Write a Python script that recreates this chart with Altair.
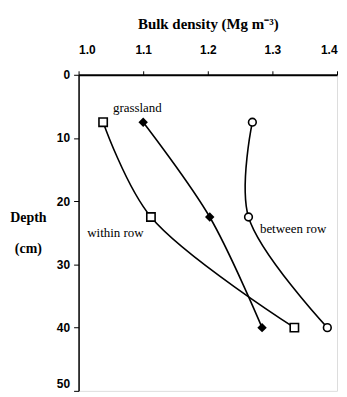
import altair as alt
import pandas as pd

depth = [7.5, 22.5, 40]
grassland = [1.100, 1.203, 1.284]
within_row = [1.038, 1.112, 1.334]
between_row = [1.269, 1.263, 1.385]

rows = []
for name, vals in [("grassland", grassland), ("within row", within_row), ("between row", between_row)]:
    for d, v in zip(depth, vals):
        rows.append({"series": name, "depth": d, "bd": v})
df = pd.DataFrame(rows)

lab_text = ["grassland", "within row", "between row"]
lab_x = [1.091, 1.057, 1.332]
lab_y = [5.2, 25.0, 24.4]
labels = pd.DataFrame({"t": lab_text, "bd": lab_x, "depth": lab_y})

xs = alt.Scale(domain=[1.0, 1.4], nice=False, zero=False)
ys = alt.Scale(domain=[0, 50], reverse=True, nice=False)

xax = alt.Axis(orient="top", values=[1.0, 1.1, 1.2, 1.3, 1.4], format=".1f",
               title="Bulk density (Mg m\u207b\u00b3)", titleFont="Liberation Serif",
               titleFontSize=15, titleFontWeight="bold", titleColor="black",
               titleBaseline="alphabetic", titleY=-47,
               labelFont="Liberation Sans", labelFontSize=12, labelFontWeight="bold",
               labelColor="black", labelPadding=14, tickSize=4, tickColor="black",
               domainColor="black", domainWidth=1.8, grid=False)
yax = alt.Axis(values=[0, 10, 20, 30, 40, 50], title=["Depth", "(cm)"],
               titleAngle=0, titleFont="Liberation Serif", titleFontSize=14,
               titleFontWeight="bold", titleColor="black", titleAlign="center",
               titleBaseline="alphabetic", titleX=-51, titleY=148, titleLineHeight=31,
               labelFont="Liberation Sans", labelFontSize=12, labelFontWeight="bold",
               labelColor="black", labelPadding=4, tickSize=5, tickColor="black",
               labelBaseline={"condition": {"test": "datum.value === 50", "value": "bottom"},
                              "value": "middle"},
               domainColor="black", domainWidth=1.5, grid=False)

base = alt.Chart(df)
lines = base.mark_line(color="black", strokeWidth=1.6, interpolate="catmull-rom").encode(
    x=alt.X("bd:Q", scale=xs, axis=xax),
    y=alt.Y("depth:Q", scale=ys, axis=yax),
    detail="series:N",
    order="depth:Q",
)

sq = alt.Chart(df[df.series == "within row"]).mark_point(
    shape="square", size=70, filled=True, fill="white", stroke="black", strokeWidth=1.6, opacity=1
).encode(x=alt.X("bd:Q", scale=xs), y=alt.Y("depth:Q", scale=ys))
ci = alt.Chart(df[df.series == "between row"]).mark_point(
    shape="circle", size=60, filled=True, fill="white", stroke="black", strokeWidth=1.6, opacity=1
).encode(x=alt.X("bd:Q", scale=xs), y=alt.Y("depth:Q", scale=ys))
di = alt.Chart(df[df.series == "grassland"]).mark_point(
    shape="diamond", size=90, filled=True, color="black", opacity=1
).encode(x=alt.X("bd:Q", scale=xs), y=alt.Y("depth:Q", scale=ys))

txt = alt.Chart(labels).mark_text(font="Liberation Serif", fontSize=13, color="black",
                                  align="center", baseline="middle").encode(
    x=alt.X("bd:Q", scale=xs), y=alt.Y("depth:Q", scale=ys), text="t:N")

chart = alt.layer(lines, sq, ci, di, txt).properties(
    width=260, height=318,
    autosize=alt.AutoSizeParams(type="none"),
    padding={"left": 71, "top": 66, "right": 2, "bottom": 4},
).configure_view(stroke="black", strokeWidth=1.5).configure(background="white")

chart.save("out.html", embed_options={"renderer": "svg", "actions": False})
